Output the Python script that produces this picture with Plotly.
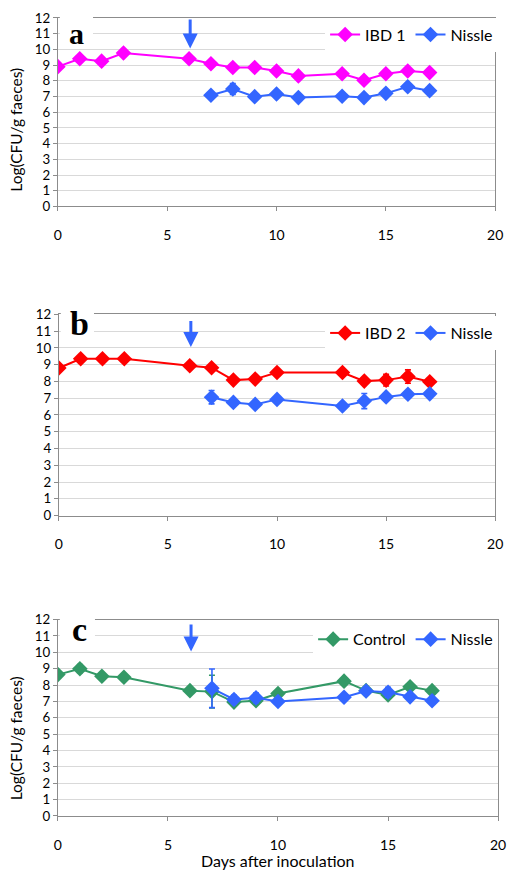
import plotly.graph_objects as go

# ---------------- data ----------------
days_a = [0, 1, 2, 3, 6, 7, 8, 9, 10, 11, 13, 14, 15, 16, 17]
ibd1 = [8.9, 9.4, 9.25, 9.77, 9.4, 9.08, 8.85, 8.85, 8.62, 8.31, 8.45, 8.03, 8.45, 8.62, 8.52]
nissle_days_a = [7, 8, 9, 10, 11, 13, 14, 15, 16, 17]
nissle_a = [7.08, 7.48, 6.99, 7.16, 6.93, 7.01, 6.93, 7.2, 7.62, 7.37]
nissle_a_err = [0.1, 0.35, 0.1, 0.1, 0.1, 0.1, 0.1, 0.1, 0.1, 0.1]

days_b = [0, 1, 2, 3, 6, 7, 8, 9, 10, 13, 14, 15, 16, 17]
ibd2 = [8.8, 9.35, 9.35, 9.35, 8.94, 8.82, 8.08, 8.14, 8.53, 8.53, 8.02, 8.08, 8.29, 7.98]
ibd2_err = [0.1, 0.1, 0.1, 0.1, 0.1, 0.1, 0.1, 0.1, 0.1, 0.1, 0.1, 0.35, 0.4, 0.1]
nissle_days_b = [7, 8, 9, 10, 13, 14, 15, 16, 17]
nissle_b = [7.06, 6.75, 6.63, 6.93, 6.54, 6.83, 7.08, 7.24, 7.26]
nissle_b_err = [0.4, 0.1, 0.1, 0.1, 0.1, 0.45, 0.2, 0.1, 0.2]

days_c = [0, 1, 2, 3, 6, 7, 8, 9, 10, 13, 14, 15, 16, 17]
control = [8.64, 9.0, 8.54, 8.48, 7.66, 7.6, 6.96, 7.04, 7.48, 8.24, 7.66, 7.4, 7.9, 7.66]
control_err = [0.1, 0.25, 0.2, 0.1, 0.15, 1.0, 0.1, 0.1, 0.1, 0.1, 0.1, 0.1, 0.2, 0.15]
nissle_days_c = [7, 8, 9, 10, 13, 14, 15, 16, 17]
nissle_c = [7.8, 7.12, 7.22, 7.0, 7.26, 7.64, 7.56, 7.28, 7.04]
nissle_c_err = [1.18, 0.25, 0.3, 0.1, 0.1, 0.25, 0.3, 0.1, 0.2]

inoculation_day = 6
x_ticks = [0, 5, 10, 15, 20]
y_ticks = list(range(0, 13))
panel_letters = ["a", "b", "c"]

MAGENTA = "#ff00ff"
BLUE = "#3366ff"
RED = "#ff0000"
GREEN = "#339966"
FONT = "Lato"

# page body has an 8px margin; size the figure to fit the window and shift
OFF = 8
W, H = 519 - 2 * OFF, 882 - 2 * OFF


def px(x):
    return (x - OFF) / W


def py(y):
    return 1 - (y - OFF) / H


# pixel layout (window coordinates) of each panel: (left, right, top, bottom)
panels = [(55, 503, 10, 202), (56, 503, 312, 517), (55, 506, 623, 823)]
# letter: (x centre, y, yanchor, font size)
letter_pos = [(74, 8.5, "top", 30), (77, 321.5, "middle", 34), (77, 633.5, "middle", 34)]
letter_box = [(57, 91, 0, 37), (58, 92, 304, 337), (57, 93, 616, 650)]
arrow_tops = [12.0, 11.7, 11.8]
legend_y = [27, 331, 643]

fig = go.Figure()


def add_series(x, y, err, color, name, idx, legend):
    sfx = "" if idx == 1 else str(idx)
    fig.add_trace(go.Scatter(
        x=x, y=y, name=name, mode="lines+markers",
        line=dict(color=color, width=2),
        marker=dict(symbol="diamond", size=12, color=color),
        error_y=dict(type="data", array=err, visible=err is not None, color=color,
                     thickness=1.6, width=3),
        xaxis="x" + sfx, yaxis="y" + sfx, legend=legend,
    ))


add_series(days_a, ibd1, None, MAGENTA, "IBD 1", 1, "legend")
add_series(nissle_days_a, nissle_a, nissle_a_err, BLUE, "Nissle", 1, "legend")
add_series(days_b, ibd2, ibd2_err, RED, "IBD 2", 2, "legend2")
add_series(nissle_days_b, nissle_b, nissle_b_err, BLUE, "Nissle", 2, "legend2")
add_series(days_c, control, control_err, GREEN, "Control", 3, "legend3")
add_series(nissle_days_c, nissle_c, nissle_c_err, BLUE, "Nissle", 3, "legend3")

layout = dict(
    width=W, height=H, margin=dict(l=0, r=0, t=0, b=0),
    paper_bgcolor="white", plot_bgcolor="white",
    font=dict(family=FONT, size=15, color="black"),
)

annotations = []
shapes = []
for i, (l, r, t, b) in enumerate(panels):
    idx = i + 1
    sfx = "" if idx == 1 else str(idx)
    layout["xaxis" + sfx] = dict(
        domain=[px(l), px(r)], range=[0, 20], anchor="y" + sfx, tickvals=x_ticks,
        showgrid=False, zeroline=False, showline=True, linecolor="#8c8c8c",
        linewidth=1, mirror=True, ticks="outside", ticklen=4, tickcolor="#8c8c8c",
        ticklabelstandoff=12, ticklabeloverflow="allow",
        tickfont=dict(size=14, family=FONT),
    )
    layout["yaxis" + sfx] = dict(
        domain=[py(b), py(t)], range=[0, 12], anchor="x" + sfx, tickvals=y_ticks,
        showgrid=True, gridcolor="#d9d9d9", gridwidth=1, zeroline=False,
        showline=True, linecolor="#8c8c8c", linewidth=1, mirror=True,
        ticks="outside", ticklen=4, tickcolor="#8c8c8c",
        tickfont=dict(size=13.3, family=FONT),
    )
    # white patch behind the panel letter
    bx0, bx1, by0, by1 = letter_box[i]
    shapes.append(dict(
        type="rect", xref="paper", yref="paper", x0=px(bx0), x1=px(bx1),
        y0=py(by1), y1=py(by0), fillcolor="white", line=dict(width=0), layer="above",
    ))
    # panel letter
    lx, ly, lanchor, lsize = letter_pos[i]
    annotations.append(dict(
        x=px(lx), y=py(ly), xref="paper", yref="paper",
        text="<b>%s</b>" % panel_letters[i], showarrow=False,
        font=dict(family="Liberation Serif", size=lsize, color="black"),
        xanchor="center", yanchor=lanchor, borderpad=0,
    ))
    # inoculation arrow
    annotations.append(dict(
        x=inoculation_day + 0.05, y=10.05, ax=inoculation_day + 0.05, ay=arrow_tops[i],
        xref="x" + sfx, yref="y" + sfx, axref="x" + sfx, ayref="y" + sfx,
        text="", showarrow=True, arrowhead=2, arrowsize=1.0, arrowwidth=3,
        arrowcolor=BLUE,
    ))
    # legend
    layout["legend" if idx == 1 else "legend%d" % idx] = dict(
        orientation="h", xref="paper", yref="paper", x=px(506), xanchor="right",
        y=py(legend_y[i]), yanchor="middle", bgcolor="white",
        font=dict(family=FONT, size=16, color="black"),
        itemwidth=30, tracegroupgap=0, itemclick=False,
    )

# y-axis titles (panels a and c)
for yc in [124, 744]:
    annotations.append(dict(
        x=px(12), y=py(yc), xref="paper", yref="paper", text="Log(CFU/g faeces)",
        textangle=-90, showarrow=False, font=dict(family=FONT, size=15.5, color="black"),
        xanchor="center", yanchor="middle",
    ))
# x-axis title (panel c)
annotations.append(dict(
    x=px(280), y=py(868), xref="paper", yref="paper", text="Days after inoculation",
    showarrow=False, font=dict(family=FONT, size=16, color="black"),
    xanchor="center", yanchor="middle",
))

layout["annotations"] = annotations
layout["shapes"] = shapes
fig.update_layout(**layout)
fig.write_html("out.html")
